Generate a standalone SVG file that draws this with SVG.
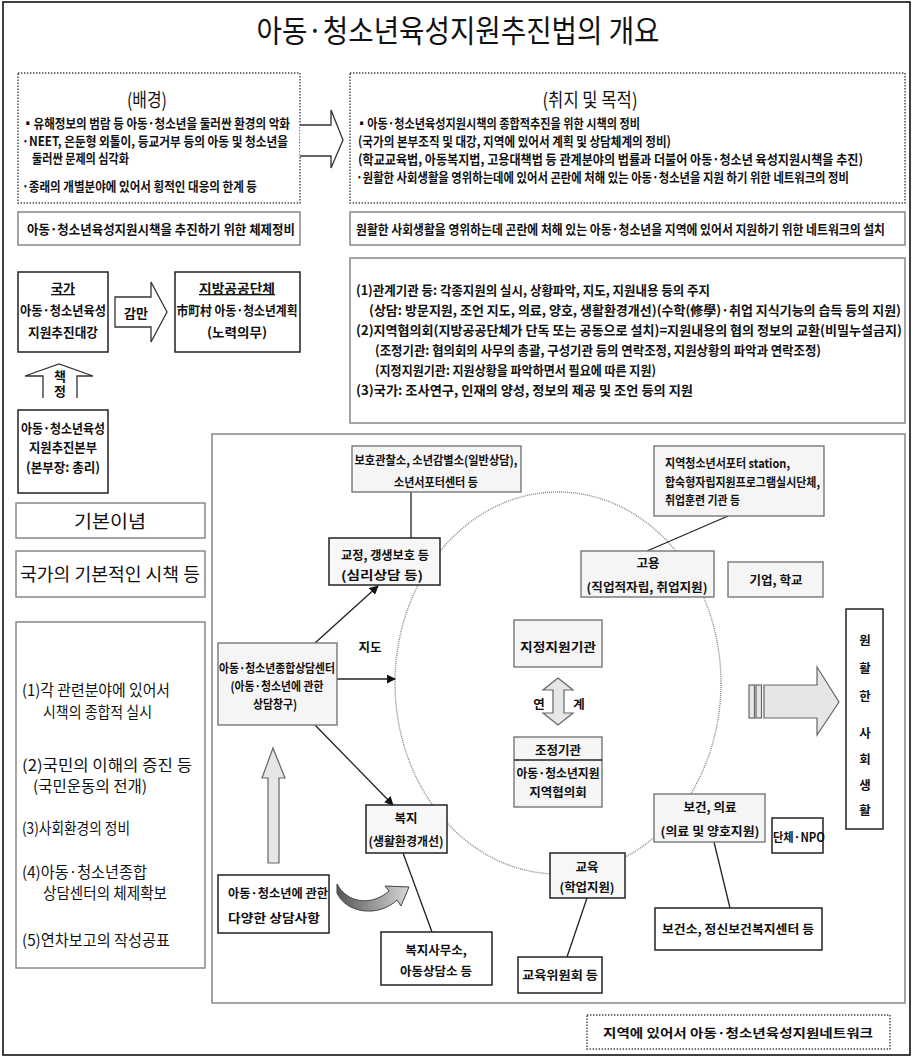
<svg xmlns="http://www.w3.org/2000/svg" width="913" height="1058" viewBox="0 0 913 1058">
  <defs>
    <style>
      text { font-family: 'Noto Sans CJK KR', 'Noto Sans', sans-serif; fill: #111; }
      .b { font-weight: bold; font-size: 13px; }
      .m { font-weight: bold; font-size: 12.5px; }
      .reg { font-weight: normal; }
      .c { text-anchor: middle; }
      .frame { fill: none; stroke: #111; stroke-width: 1.6; }
      .dot { fill: #fff; stroke: #444; stroke-width: 1.4; stroke-dasharray: 1.4 1.6; }
      .gbox { fill: #fff; stroke: #888; stroke-width: 1.5; }
      .kbox { fill: #fff; stroke: #222; stroke-width: 1.5; }
      .nbox { fill: #f5f5f5; stroke: #777; stroke-width: 1.4; }
      .dbox { fill: #f7f7f7; stroke: #222; stroke-width: 1.5; }
      .hollow { fill: #fff; stroke: #333; stroke-width: 1.3; }
      .light { fill: #e6e6e6; stroke: #666; stroke-width: 1.2; }
      .conn { stroke: #222; stroke-width: 1.3; fill: none; }
      .ring { fill: none; stroke: #888; stroke-width: 1.4; stroke-dasharray: 1 1; }
    </style>
    <marker id="ah" viewBox="0 0 10 10" refX="9" refY="5" markerWidth="9" markerHeight="9" markerUnits="userSpaceOnUse" orient="auto">
      <path d="M0,0 L10,5 L0,10 z" fill="#111"/>
    </marker>
    <linearGradient id="curveFill" x1="0" y1="0" x2="1" y2="0">
      <stop offset="0" stop-color="#555"/>
      <stop offset="1" stop-color="#d8d8d8"/>
    </linearGradient>
  </defs>

  <!-- page frame -->
  <rect class="frame" x="3" y="2" width="907" height="1053"/>

  <!-- title -->
  <text class="c reg" x="458" y="42" font-size="31" textLength="403" lengthAdjust="spacingAndGlyphs">아동·청소년육성지원추진법의 개요</text>

  <!-- background block -->
  <g id="background">
    <rect class="dot" x="18" y="73" width="282" height="130"/>
    <text class="c reg" x="147" y="107" font-size="19" textLength="40" lengthAdjust="spacingAndGlyphs">(배경)</text>
    <text class="b" x="22" y="128" textLength="268" lengthAdjust="spacingAndGlyphs">▪유해정보의 범람 등 아동·청소년을 둘러싼 환경의 악화</text>
    <text class="b" x="22" y="146" textLength="266" lengthAdjust="spacingAndGlyphs">·NEET, 은둔형 외톨이, 등교거부 등의 아동 및 청소년을</text>
    <text class="b" x="32" y="163" textLength="97" lengthAdjust="spacingAndGlyphs">둘러싼 문제의 심각화</text>
    <text class="b" x="22" y="191" textLength="235" lengthAdjust="spacingAndGlyphs">·종래의 개별분야에 있어서 횡적인 대응의 한계 등</text>
  </g>

  <g id="arrow-top">
    <path class="hollow" d="M300,125 L331,125 L331,110 L343,140 L331,168 L331,156 L300,156"/>
  </g>

  <!-- purpose block -->
  <g id="purpose">
    <rect class="dot" x="350" y="73" width="555" height="130"/>
    <text class="c reg" x="590" y="107" font-size="19" textLength="95" lengthAdjust="spacingAndGlyphs">(취지 및 목적)</text>
    <text class="b" x="356" y="128" textLength="284" lengthAdjust="spacingAndGlyphs">▪아동·청소년육성지원시책의 종합적추진을 위한 시책의 정비</text>
    <text class="b" x="358" y="146" textLength="313" lengthAdjust="spacingAndGlyphs">(국가의 본부조직 및 대강, 지역에 있어서 계획 및 상담체계의 정비)</text>
    <text class="b" x="358" y="164" font-size="12.5" textLength="505" lengthAdjust="spacingAndGlyphs">(학교교육법, 아동복지법, 고용대책법 등 관계분야의 법률과 더불어 아동·청소년 육성지원시책을 추진)</text>
    <text class="b" x="356" y="182" font-size="11.2" textLength="493" lengthAdjust="spacingAndGlyphs">·원활한 사회생활을 영위하는데에 있어서 곤란에 처해 있는 아동·청소년을 지원 하기 위한 네트워크의 정비</text>
  </g>

  <g id="system">
    <rect class="gbox" x="18" y="212" width="282" height="33"/>
    <text class="b" x="27" y="234" font-size="15" textLength="268" lengthAdjust="spacingAndGlyphs">아동·청소년육성지원시책을 추진하기 위한 체제정비</text>
  </g>

  <g id="network-setup">
    <rect class="gbox" x="350" y="212" width="555" height="33"/>
    <text class="b" x="356" y="234" font-size="11.8" textLength="529" lengthAdjust="spacingAndGlyphs">원활한 사회생활을 영위하는데 곤란에 처해 있는 아동·청소년을 지역에 있어서 지원하기 위한 네트워크의 설치</text>
  </g>

  <!-- national outline -->
  <g id="national-outline">
    <rect class="kbox" x="18" y="272" width="90" height="80"/>
    <text class="b c" x="63" y="293" font-size="14" text-decoration="underline">국가</text>
    <text class="b c" x="63" y="315" font-size="14" textLength="86" lengthAdjust="spacingAndGlyphs">아동·청소년육성</text>
    <text class="b c" x="63" y="337" font-size="14" textLength="70" lengthAdjust="spacingAndGlyphs">지원추진대강</text>
  </g>

  <g id="arrow-gamman">
    <path class="hollow" d="M115,297 L151,297 L151,282 L167,312 L151,342 L151,327 L115,327 Z"/>
    <text class="b c" x="136" y="318" font-size="14">감만</text>
  </g>

  <g id="local-plan">
    <rect class="kbox" x="175" y="272" width="125" height="80"/>
    <text class="b c" x="237" y="293" font-size="14" text-decoration="underline" textLength="76" lengthAdjust="spacingAndGlyphs">지방공공단체</text>
    <text class="b c" x="237" y="315" font-size="14" textLength="121" lengthAdjust="spacingAndGlyphs">市町村 아동·청소년계획</text>
    <text class="b c" x="237" y="337" font-size="14" textLength="60" lengthAdjust="spacingAndGlyphs">(노력의무)</text>
  </g>

  <g id="arrow-decide">
    <path class="hollow" d="M43,398 L43,376 L25,376 L59,364 L93,376 L77,376 L77,398"/>
    <text class="b c" font-size="11"><tspan x="60" y="381">책</tspan><tspan x="60" y="396">정</tspan></text>
  </g>

  <g id="headquarters">
    <rect class="kbox" x="18" y="410" width="90" height="83"/>
    <text class="b c" x="63" y="433" font-size="14" textLength="84" lengthAdjust="spacingAndGlyphs">아동·청소년육성</text>
    <text class="b c" x="63" y="452" font-size="14" textLength="68" lengthAdjust="spacingAndGlyphs">지원추진본부</text>
    <text class="b c" x="63" y="472" font-size="14" textLength="74" lengthAdjust="spacingAndGlyphs">(본부장: 총리)</text>
  </g>

  <!-- roles of agencies -->
  <g id="roles">
    <rect class="gbox" x="350" y="258" width="555" height="165"/>
    <text class="b" x="356" y="295" textLength="354" lengthAdjust="spacingAndGlyphs">(1)관계기관 등: 각종지원의 실시, 상황파악, 지도, 지원내용 등의 주지</text>
    <text class="b" x="369" y="315" textLength="532" lengthAdjust="spacingAndGlyphs">(상담: 방문지원, 조언 지도, 의료, 양호, 생활환경개선)(수학(修學)·취업 지식기능의 습득 등의 지원)</text>
    <text class="b" x="356" y="335" textLength="546" lengthAdjust="spacingAndGlyphs">(2)지역협의회(지방공공단체가 단독 또는 공동으로 설치)=지원내용의 협의 정보의 교환(비밀누설금지)</text>
    <text class="b" x="375" y="355" textLength="446" lengthAdjust="spacingAndGlyphs">(조정기관: 협의회의 사무의 총괄, 구성기관 등의 연락조정, 지원상황의 파악과 연락조정)</text>
    <text class="b" x="375" y="375" textLength="281" lengthAdjust="spacingAndGlyphs">(지정지원기관: 지원상황을 파악하면서 필요에 따른 지원)</text>
    <text class="b" x="356" y="395" textLength="337" lengthAdjust="spacingAndGlyphs">(3)국가: 조사연구, 인재의 양성, 정보의 제공 및 조언 등의 지원</text>
  </g>

  <!-- basic principles column -->
  <g id="principle">
    <rect class="gbox" x="16" y="503" width="189" height="35"/>
    <text class="c reg" x="110" y="528" font-size="18" textLength="72" lengthAdjust="spacingAndGlyphs">기본이념</text>
  </g>
  <g id="basic-policy">
    <rect class="gbox" x="16" y="551" width="189" height="46"/>
    <text class="c reg" x="110" y="581" font-size="18" textLength="180" lengthAdjust="spacingAndGlyphs">국가의 기본적인 시책 등</text>
  </g>
  <g id="policy-list">
    <rect class="gbox" x="16" y="622" width="189" height="346"/>
    <text class="reg" x="22" y="696" font-size="15.5" textLength="148" lengthAdjust="spacingAndGlyphs">(1)각 관련분야에 있어서</text>
    <text class="reg" x="43" y="718" font-size="15.5" textLength="109" lengthAdjust="spacingAndGlyphs">시책의 종합적 실시</text>
    <text class="reg" x="22" y="771" font-size="15.5" textLength="170" lengthAdjust="spacingAndGlyphs">(2)국민의 이해의 증진 등</text>
    <text class="reg" x="33" y="792" font-size="15.5" textLength="114" lengthAdjust="spacingAndGlyphs">(국민운동의 전개)</text>
    <text class="reg" x="22" y="834" font-size="15.5" textLength="108" lengthAdjust="spacingAndGlyphs">(3)사회환경의 정비</text>
    <text class="reg" x="22" y="878" font-size="15.5" textLength="125" lengthAdjust="spacingAndGlyphs">(4)아동·청소년종합</text>
    <text class="reg" x="43" y="899" font-size="15.5" textLength="124" lengthAdjust="spacingAndGlyphs">상담센터의 체제확보</text>
    <text class="reg" x="22" y="946" font-size="15.5" textLength="148" lengthAdjust="spacingAndGlyphs">(5)연차보고의 작성공표</text>
  </g>

  <!-- regional network area -->
  <g id="network-area">
    <rect class="gbox" x="212" y="434" width="693" height="569"/>
    <ellipse class="ring" cx="558" cy="683" rx="163" ry="191"/>
  </g>

  <g id="connectors">
    <line class="conn" x1="411" y1="492" x2="411" y2="538"/>
    <line class="conn" x1="315" y1="643" x2="378" y2="586" marker-end="url(#ah)"/>
    <line class="conn" x1="337" y1="679" x2="395" y2="679" marker-end="url(#ah)"/>
    <line class="conn" x1="315" y1="725" x2="393" y2="805" marker-end="url(#ah)"/>
    <line class="conn" x1="728" y1="516" x2="647" y2="551"/>
    <line class="conn" x1="403" y1="853" x2="432" y2="932"/>
    <line class="conn" x1="587" y1="898" x2="567" y2="957"/>
    <line class="conn" x1="714" y1="842" x2="730" y2="908"/>
  </g>

  <g id="probation">
    <rect class="nbox" x="352" y="446" width="169" height="46"/>
    <text class="m c" x="436" y="465" textLength="163" lengthAdjust="spacingAndGlyphs">보호관찰소, 소년감별소(일반상담),</text>
    <text class="m c" x="436" y="487" textLength="84" lengthAdjust="spacingAndGlyphs">소년서포터센터 등</text>
  </g>

  <g id="correction">
    <rect class="dbox" x="329" y="538" width="111" height="47"/>
    <text class="m c" x="385" y="560" font-size="13.5" textLength="88" lengthAdjust="spacingAndGlyphs">교정, 갱생보호 등</text>
    <text class="m c" x="382" y="580" font-size="13.5" textLength="82" lengthAdjust="spacingAndGlyphs">(심리상담 등)</text>
  </g>

  <g id="consult-center">
    <rect class="nbox" x="218" y="643" width="119" height="82"/>
    <text class="m c" x="277" y="673" textLength="116" lengthAdjust="spacingAndGlyphs">아동·청소년종합상담센터</text>
    <text class="m c" x="277" y="691" textLength="93" lengthAdjust="spacingAndGlyphs">(아동·청소년에 관한</text>
    <text class="m c" x="275" y="709" textLength="44" lengthAdjust="spacingAndGlyphs">상담창구)</text>
  </g>
  <text class="m c" x="370" y="652">지도</text>

  <g id="designated">
    <rect class="nbox" x="514" y="620" width="88" height="47"/>
    <text class="m c" x="558" y="652" font-size="14" textLength="76" lengthAdjust="spacingAndGlyphs">지정지원기관</text>
  </g>

  <g id="link-arrow">
    <path class="light" d="M558,678 L573,690 L564,690 L564,713 L573,713 L558,725 L543,713 L553,713 L553,690 L543,690 Z"/>
    <text class="m c" x="539" y="709">연</text>
    <text class="m c" x="579" y="709">계</text>
  </g>

  <g id="council">
    <rect class="nbox" x="514" y="737" width="88" height="70"/>
    <line x1="514" y1="760" x2="602" y2="760" stroke="#222" stroke-width="1.3"/>
    <text class="m c" x="558" y="755">조정기관</text>
    <text class="m c" x="558" y="778" textLength="83" lengthAdjust="spacingAndGlyphs">아동·청소년지원</text>
    <text class="m c" x="558" y="797">지역협의회</text>
  </g>

  <g id="employment">
    <rect class="nbox" x="581" y="551" width="133" height="46"/>
    <text class="m c" x="648" y="568">고용</text>
    <text class="m c" x="647" y="592" textLength="121" lengthAdjust="spacingAndGlyphs">(직업적자립, 취업지원)</text>
  </g>

  <g id="support-station">
    <rect class="nbox" x="654" y="446" width="170" height="70"/>
    <text class="m" x="665" y="468" textLength="125" lengthAdjust="spacingAndGlyphs">지역청소년서포터 station,</text>
    <text class="m" x="665" y="487" textLength="155" lengthAdjust="spacingAndGlyphs">합숙형자립지원프로그램실시단체,</text>
    <text class="m" x="665" y="505" textLength="75" lengthAdjust="spacingAndGlyphs">취업훈련 기관 등</text>
  </g>

  <g id="company-school">
    <rect class="nbox" x="728" y="562" width="95" height="35"/>
    <text class="m c" x="776" y="585" font-size="13.5">기업, 학교</text>
  </g>

  <g id="social-life">
    <rect class="kbox" x="846" y="609" width="37" height="220"/>
    <text class="m c" x="865" y="645" font-size="13.5">원</text>
    <text class="m c" x="865" y="673" font-size="13.5">활</text>
    <text class="m c" x="865" y="701" font-size="13.5">한</text>
    <text class="m c" x="865" y="738" font-size="13.5">사</text>
    <text class="m c" x="865" y="764" font-size="13.5">회</text>
    <text class="m c" x="865" y="790" font-size="13.5">생</text>
    <text class="m c" x="865" y="815" font-size="13.5">활</text>
  </g>

  <g id="big-arrow">
    <rect class="light" x="749" y="685" width="5.5" height="33"/>
    <rect class="light" x="756" y="685" width="5.5" height="33"/>
    <path class="light" d="M764,685 L817,685 L817,667 L839,702 L817,735 L817,718 L764,718 Z"/>
  </g>

  <g id="health">
    <rect class="nbox" x="654" y="794" width="111" height="48"/>
    <text class="m c" x="710" y="812" font-size="13.5">보건, 의료</text>
    <text class="m c" x="710" y="836" font-size="13.5" textLength="99" lengthAdjust="spacingAndGlyphs">(의료 및 양호지원)</text>
  </g>

  <g id="npo">
    <rect class="kbox" x="772" y="818" width="51" height="35"/>
    <text class="m c" x="799" y="842" font-size="13.5" textLength="52" lengthAdjust="spacingAndGlyphs">단체·NPO</text>
  </g>

  <g id="health-center">
    <rect class="kbox" x="655" y="908" width="167" height="42"/>
    <text class="m c" x="738" y="934" font-size="13" textLength="152" lengthAdjust="spacingAndGlyphs">보건소, 정신보건복지센터 등</text>
  </g>

  <g id="education">
    <rect class="dbox" x="550" y="853" width="75" height="45"/>
    <text class="m c" x="587" y="872">교육</text>
    <text class="m c" x="587" y="892" textLength="55" lengthAdjust="spacingAndGlyphs">(학업지원)</text>
  </g>

  <g id="edu-board">
    <rect class="kbox" x="518" y="957" width="84" height="36"/>
    <text class="m c" x="560" y="980" textLength="76" lengthAdjust="spacingAndGlyphs">교육위원회 등</text>
  </g>

  <g id="welfare">
    <rect class="dbox" x="366" y="805" width="81" height="48"/>
    <text class="m c" x="406" y="823">복지</text>
    <text class="m c" x="406" y="846" textLength="75" lengthAdjust="spacingAndGlyphs">(생활환경개선)</text>
  </g>

  <g id="welfare-office">
    <rect class="kbox" x="381" y="932" width="111" height="53"/>
    <text class="m c" x="436" y="955" font-size="13.5">복지사무소,</text>
    <text class="m c" x="436" y="976" font-size="13.5">아동상담소 등</text>
  </g>

  <g id="various-consult">
    <rect class="kbox" x="218" y="875" width="111" height="58"/>
    <text class="m" x="228" y="898" font-size="13.5" textLength="100" lengthAdjust="spacingAndGlyphs">아동·청소년에 관한</text>
    <text class="m" x="228" y="923" font-size="13.5" textLength="92" lengthAdjust="spacingAndGlyphs">다양한 상담사항</text>
  </g>

  <g id="up-arrow">
    <path class="light" d="M273,748 L285,778 L279,778 L279,863 L268,863 L268,778 L262,778 Z"/>
  </g>

  <g id="curved-arrow">
    <path d="M337,884 C348,904 372,906 389,891 L385,886 L409,887 L401,906 L397,900 C378,918 346,913 337,893 Z" fill="url(#curveFill)" stroke="#444" stroke-width="1"/>
  </g>

  <!-- footer caption -->
  <g id="caption">
    <rect class="dot" x="587" y="1015" width="303" height="34"/>
    <text class="m c" x="738" y="1038" font-size="15" textLength="270" lengthAdjust="spacingAndGlyphs">지역에 있어서 아동·청소년육성지원네트워크</text>
  </g>
</svg>
